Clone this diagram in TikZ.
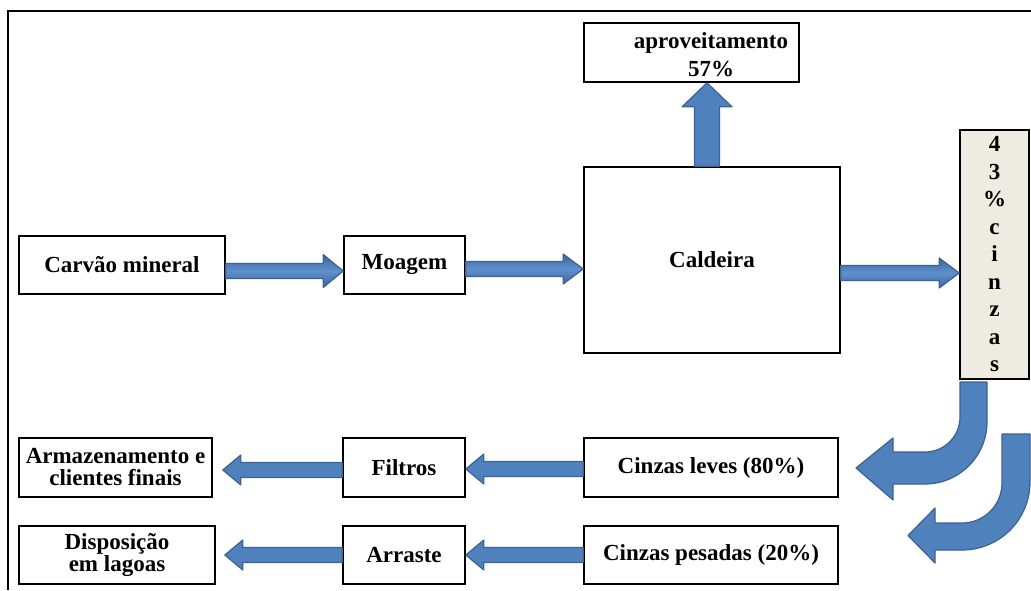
\documentclass[tikz,border=0pt]{standalone}
\usepackage{fontspec}
\setmainfont{Liberation Serif}
\usetikzlibrary{calc}

\definecolor{arrowfill}{RGB}{79,129,189}
\definecolor{arrowline}{RGB}{60,98,148}
\definecolor{arrowdark}{RGB}{62,101,153}
\definecolor{arrowlight}{RGB}{94,144,206}
\definecolor{ashbox}{RGB}{238,236,225}

% block arrow from #2 to #3; #4 = shaft half width / head half width / head length
\def\blkparse#1/#2/#3\relax{%
  \pgfmathsetmacro\bkS{#1}%
  \pgfmathsetmacro\bkDb{veclen(#3,#1)}%
  \pgfmathsetmacro\bkAb{atan2(#1,#3)}%
  \pgfmathsetmacro\bkDh{veclen(#3,#2)}%
  \pgfmathsetmacro\bkAh{atan2(#2,#3)}}
\newcommand\blkarrow[4][flat]{%
  \blkparse#4\relax
  \draw[#1] ($(#2)!\bkS pt!90:(#3)$)
    -- ($(#3)!\bkDb pt!-\bkAb:(#2)$)
    -- ($(#3)!\bkDh pt!-\bkAh:(#2)$)
    -- (#3)
    -- ($(#3)!\bkDh pt!\bkAh:(#2)$)
    -- ($(#3)!\bkDb pt!\bkAb:(#2)$)
    -- ($(#2)!\bkS pt!-90:(#3)$) -- cycle;}

\begin{document}
\begin{tikzpicture}[x=1pt,y=-1pt,
  box/.style={draw=black, line width=1.6pt, fill=white, inner sep=0pt,
    align=center, font=\bfseries\fontsize{23}{22}\selectfont},
  flat/.style={fill=arrowfill, draw=arrowline, line width=1.2pt, line join=round},
  bevel/.style={top color=arrowdark, bottom color=arrowdark, middle color=arrowlight,
    draw=arrowline, line width=1.2pt, line join=round},
]
\useasboundingbox (0,0) rectangle (1031,590);

% page frame
\draw[line width=2.4pt] (8,590) -- (8,11) -- (1031,11);

% process boxes
\node[box, minimum width=206, minimum height=58] (carvao) at (122,265) {Carvão mineral};
\node[box, minimum width=121, minimum height=58] (moagem) at (404.5,265) {Moagem};
\node[box, minimum width=256, minimum height=186] (cald) at (712,260) {Caldeira};
\node[box, minimum width=215, minimum height=59] (aprov) at (691.5,52.5) {};
\node[align=center, inner sep=0pt, font=\bfseries\fontsize{23}{28}\selectfont]
  (aprovtxt) at (711,54.5) {aproveitamento\\57\%};
\node[box, fill=ashbox, minimum width=69, minimum height=249,
  font=\bfseries\fontsize{23}{27.5}\selectfont] (pct) at (994.5,254.5)
  {4\\3\\\%\\c\\i\\n\\z\\a\\s};

\node[box, minimum width=254, minimum height=59] (leves) at (711,467.5) {Cinzas leves (80\%)};
\node[box, minimum width=254, minimum height=58] (pesadas) at (711,555) {Cinzas pesadas (20\%)};
\node[box, minimum width=122, minimum height=59] (filtros) at (404,467.5) {Filtros};
\node[box, minimum width=122, minimum height=58] (arraste) at (404,555) {Arraste};
\node[box, minimum width=193, minimum height=59] (armaz) at (115.5,467.5) {Armazenamento e\\clientes finais};
\node[box, minimum width=196, minimum height=58] (disp) at (117,555) {Disposição\\em lagoas};

% arrow end points
\coordinate (c1) at ([yshift=-6pt]carvao.east);
\coordinate (m1) at ([yshift=-6pt]moagem.west);
\coordinate (m2) at ([yshift=-4pt]moagem.east);
\coordinate (k1) at (m2 -| cald.west);
\coordinate (k2) at ([yshift=-13pt]cald.east);
\coordinate (p1) at (k2 -| pct.west);
\coordinate (k3) at ([xshift=-5pt]cald.north);
\coordinate (a1) at (k3 |- aprov.south);
\coordinate (l1) at ([yshift=-1.5pt]leves.west);
\coordinate (f1) at ([yshift=-1.5pt]filtros.east);
\coordinate (f2) at ([yshift=-2.5pt]filtros.west);
\coordinate (z1) at ([xshift=10pt,yshift=-2.5pt]armaz.east);
\coordinate (s1) at (pesadas.west);
\coordinate (r1) at (arraste.east);
\coordinate (r2) at (arraste.west);
\coordinate (d1) at ([xshift=9pt]disp.east);

% straight block arrows
\blkarrow[bevel]{c1}{m1}{7.5/16.5/20}
\blkarrow[bevel]{m2}{k1}{7.5/15/20}
\blkarrow[bevel]{k2}{p1}{7.5/15/20}
\blkarrow{k3}{a1}{12.5/25/24}
\blkarrow{l1}{f1}{7.5/15/18}
\blkarrow{f2}{z1}{7.5/15/18}
\blkarrow{s1}{r1}{7.5/15/18}
\blkarrow{r2}{d1}{7.5/15/18}

% curved block arrows below the ash column
\draw[flat] (960,382) -- (960,417)
  .. controls (960,436.3) and (944.3,452) .. (925,452)
  -- (893,452) -- (893,438) -- (856,468) -- (893,500) -- (893,484) -- (925,484)
  .. controls (959.2,484) and (987,456.2) .. (987,422)
  -- (987,382) -- cycle;
\draw[flat] (1002,434) -- (1002,483)
  .. controls (1002,505.1) and (984.1,523) .. (962,523)
  -- (935,523) -- (935,508) -- (908,535.5) -- (935,563) -- (935,550) -- (962,550)
  .. controls (999.6,550) and (1030,519.6) .. (1030,482)
  -- (1030,434) -- cycle;
\end{tikzpicture}
\end{document}
